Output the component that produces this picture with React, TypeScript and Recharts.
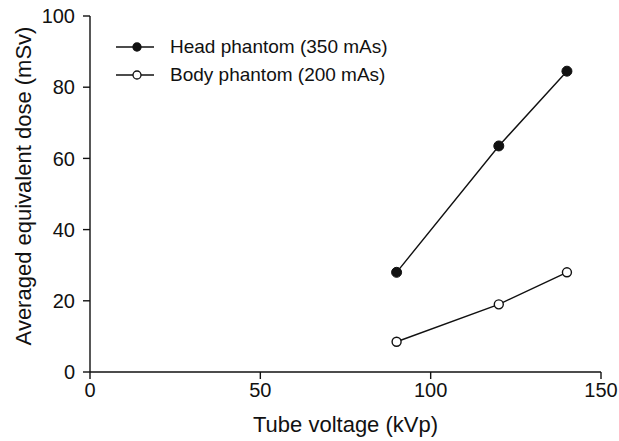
import { LineChart, Line, XAxis, YAxis } from 'recharts';

const voltages = [90, 120, 140];
const headDose = [28, 63.5, 84.5];
const bodyDose = [8.5, 19, 28];
const xTicks = [0, 50, 100, 150];
const yTicks = [0, 20, 40, 60, 80, 100];

const data = voltages.map((v, i) => ({ kvp: v, head: headDose[i], body: bodyDose[i] }));

const font = '"Liberation Sans", Arial, sans-serif';

const legendItems = [
  { name: 'Head phantom (350 mAs)', fill: '#111' },
  { name: 'Body phantom (200 mAs)', fill: '#fff' },
];

// legend sits inside the plot, upper left
function LegendBox() {
  return (
    <div style={{ position: 'absolute', left: 116, top: 33, fontFamily: font, fontSize: 19, color: '#111' }}>
      {legendItems.map((it) => (
        <div key={it.name} style={{ display: 'flex', alignItems: 'center', height: 28 }}>
          <svg width={38} height={12} style={{ marginRight: 16 }}>
            <line x1={0} y1={6} x2={38} y2={6} stroke="#111" strokeWidth={1.4} />
            <circle cx={21} cy={6} r={4} fill={it.fill} stroke="#111" strokeWidth={1.3} />
          </svg>
          <span style={{ lineHeight: '28px' }}>{it.name}</span>
        </div>
      ))}
    </div>
  );
}

export default function App() {
  const tick = { fill: '#111', fontSize: 20, fontFamily: font };
  return (
    <div style={{ position: 'absolute', left: 0, top: 0, width: 619, height: 441, background: '#fff' }}>
      <LineChart width={619} height={441} data={data} margin={{ top: 16, right: 18, bottom: 0, left: 0 }}>
        <XAxis
          dataKey="kvp"
          type="number"
          domain={[0, 150]}
          ticks={xTicks}
          height={69}
          tick={tick}
          tickSize={7}
          tickMargin={4}
          stroke="#111"
          strokeWidth={1.4}
          label={{ value: 'Tube voltage (kVp)', position: 'insideBottom', offset: 9, fill: '#111', fontSize: 22, fontFamily: font }}
        />
        <YAxis
          type="number"
          domain={[0, 100]}
          ticks={yTicks}
          width={90}
          tick={tick}
          tickSize={7}
          tickMargin={8}
          stroke="#111"
          strokeWidth={1.4}
          label={{ value: 'Averaged equivalent dose (mSv)', angle: -90, position: 'insideLeft', offset: 23, dy: -8, style: { textAnchor: 'middle' }, fill: '#111', fontSize: 22, fontFamily: font }}
        />
        <Line
          dataKey="head"
          stroke="#111"
          strokeWidth={1.4}
          dot={{ r: 5, fill: '#111', stroke: '#111', strokeWidth: 1 }}
          isAnimationActive={false}
        />
        <Line
          dataKey="body"
          stroke="#111"
          strokeWidth={1.4}
          dot={{ r: 4.5, fill: '#fff', stroke: '#111', strokeWidth: 1.4 }}
          isAnimationActive={false}
        />
      </LineChart>
      <LegendBox />
    </div>
  );
}
